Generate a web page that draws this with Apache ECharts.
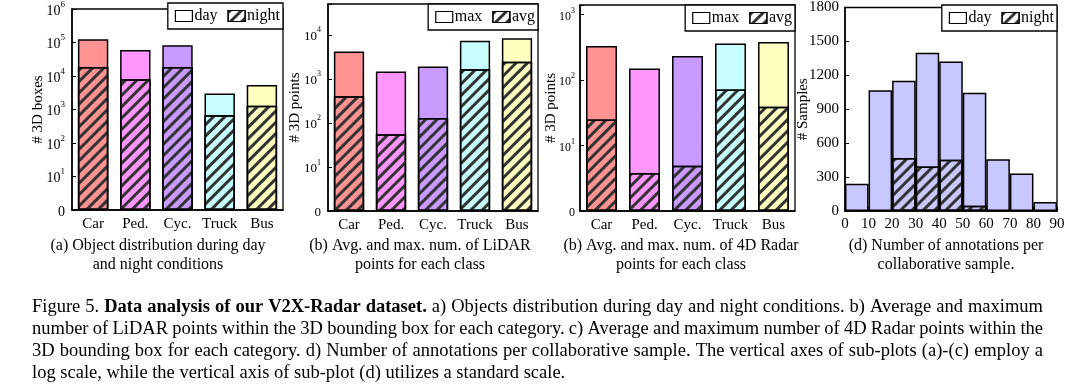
<!DOCTYPE html>
<html><head><meta charset="utf-8">
<script src="https://cdn.jsdelivr.net/npm/echarts@6/dist/echarts.min.js"></script>
<style>html,body{margin:0;padding:0;background:#fff}#c{width:1080px;height:389px}</style>
</head><body><div id="c"></div>
<script>
// ---------- data ----------
const categories = ['Car', 'Ped.', 'Cyc.', 'Truck', 'Bus'];
const boxesDay = [125000, 60000, 83000, 3000, 5400];
const boxesNight = [18500, 8000, 18500, 670, 1300];
const lidarMax = [4150, 1470, 1900, 7300, 8400];
const lidarAvg = [400, 55, 130, 1650, 2450];
const radarMax = [330, 150, 233, 360, 382];
const radarAvg = [25, 3.8, 4.9, 72, 39];
const histTicks = [0, 10, 20, 30, 40, 50, 60, 70, 80, 90];
const histDay = [242, 1068, 1152, 1400, 1322, 1046, 457, 332, 79];
const histNight = [0, 0, 469, 393, 454, 46, 0, 0, 0];
const yTicksD = [0, 300, 600, 900, 1200, 1500, 1800];

// ---------- styles ----------
const FONT = '"Liberation Serif", "Times New Roman", serif';
const classColors = ['#ff9393', '#ff96ff', '#c99aff', '#c8ffff', '#ffffc0'];
const histColor = '#c8c8ff';
const hatch = {symbol: 'rect', symbolSize: 1, dashArrayX: [1, 0], dashArrayY: [2.5, 4.5], rotation: -Math.PI / 4, color: '#333'};

const grids = [
  {left: 72, top: 3, width: 211, height: 207},
  {left: 328, top: 4, width: 210, height: 207},
  {left: 580, top: 5, width: 215, height: 206},
  {left: 845, top: 5, width: 212, height: 206}
];

function powLabel(v) {
  const e = Math.log10(v);
  const r = Math.round(e);
  if (Math.abs(e - r) > 1e-6) return '';
  if (r === 0) return '{b|0}';
  return '{b|10}{s|' + r + '}';
}
const axisLineStyle = {color: '#000', width: 1.5};
const nameStyle = {color: '#000', fontFamily: FONT, fontSize: 15};
function catX(gi) {
  return {type: 'category', gridIndex: gi, data: categories,
    axisLine: {lineStyle: axisLineStyle},
    axisTick: {inside: true, length: 4, lineStyle: {color: '#000'}},
    axisLabel: {color: '#000', fontFamily: FONT, fontSize: 15, margin: 7, interval: 0},
    splitLine: {show: false}};
}
function logY(gi, max, name, gap, fs, margin) {
  return {type: 'log', logBase: 10, gridIndex: gi, min: 1, max: max,
    name: name, nameLocation: 'middle', nameGap: gap, nameMoveOverlap: false,
    nameTextStyle: nameStyle,
    axisLine: {show: true, lineStyle: axisLineStyle},
    axisTick: {show: true, inside: true, length: 4, lineStyle: {color: '#000'}},
    minorTick: {show: false}, splitLine: {show: false},
    axisLabel: {color: '#000', fontFamily: FONT, margin: margin, formatter: powLabel,
      rich: {b: {fontSize: fs, fontFamily: FONT, color: '#000', verticalAlign: 'bottom', lineHeight: fs + 4},
             s: {fontSize: Math.round(fs * 0.65), fontFamily: FONT, color: '#000', verticalAlign: 'top', lineHeight: Math.round(fs * 0.65)}}}};
}
function legendFor(gi, names) {
  const g = grids[gi];
  return {right: 1080 - (g.left + g.width), top: g.top, orient: 'horizontal',
    borderColor: '#000', borderWidth: 1.3, padding: [5, 3, 5, 7], backgroundColor: '#fff',
    itemWidth: 17, itemHeight: 11, itemGap: 10, selectedMode: false,
    textStyle: {fontFamily: FONT, fontSize: 16, color: '#000', padding: [0, 0, 0, -3]},
    data: [
      {name: names[0], icon: 'rect', itemStyle: {color: '#fff', borderColor: '#000', borderWidth: 1.2, decal: 'none'}},
      {name: names[1], icon: 'rect', itemStyle: {color: '#fff', borderColor: '#000', borderWidth: 1.2, decal: hatch}}
    ]};
}
function barPair(gi, names, hi, lo) {
  const base = {type: 'bar', xAxisIndex: gi, yAxisIndex: gi, barWidth: '72%', barGap: '-100%'};
  return [
    Object.assign({}, base, {name: names[0], z: 2,
      itemStyle: {borderColor: '#000', borderWidth: 1.5},
      data: hi.map((v, i) => ({value: v, itemStyle: {color: classColors[i]}}))}),
    Object.assign({}, base, {name: names[1], z: 3,
      itemStyle: {borderColor: '#000', borderWidth: 1.5, decal: hatch},
      data: lo.map((v, i) => ({value: v, itemStyle: {color: classColors[i]}}))})
  ];
}

const binNames = histTicks.slice(0, -1).map((t, i) => t + '-' + histTicks[i + 1]);

// ---------- caption ----------
const captionLines = [
  [['Figure 5. ', false], ['Data analysis of our V2X-Radar dataset.', true], [' a) Objects distribution during day and night conditions. b) Average and maximum', false]],
  [['number of LiDAR points within the 3D bounding box for each category. c) Average and maximum number of 4D Radar points within the', false]],
  [['3D bounding box for each category. d) Number of annotations per collaborative sample. The vertical axes of sub-plots (a)-(c) employ a', false]],
  [['log scale, while the vertical axis of sub-plot (d) utilizes a standard scale.', false]]
];
const subtitles = [
  {x: 158, lines: ['(a) Object distribution during day', 'and night conditions']},
  {x: 420, lines: ['(b) Avg. and max. num. of LiDAR', 'points for each class']},
  {x: 681, lines: ['(b) Avg. and max. num. of 4D Radar', 'points for each class']},
  {x: 946, lines: ['(d) Number of annotations per', 'collaborative sample.']}
];

const graphics = [];
subtitles.forEach(s => {
  s.lines.forEach((t, k) => {
    graphics.push({type: 'text', x: s.x, y: 246 + k * 19,
      style: {text: t, fill: '#000', font: '16px ' + FONT, align: 'center', verticalAlign: 'middle'}});
  });
});
const mctx = document.createElement('canvas').getContext('2d');
const CAP_L = 32, CAP_R = 1043, CAP_Y0 = 307, CAP_DY = 22;
function capFont(bold, size) { return (bold ? 'bold ' : '') + size + 'px ' + FONT; }
function layoutLine(segs, size) {
  const words = [];
  segs.forEach(([txt, bold]) => {
    txt.split(' ').filter(w => w.length).forEach(w => words.push({w, bold}));
  });
  words.forEach(o => { mctx.font = capFont(o.bold, size); o.width = mctx.measureText(o.w).width; });
  mctx.font = capFont(false, size);
  const spaceW = mctx.measureText(' ').width;
  const total = words.reduce((a, o) => a + o.width, 0);
  return {words, spaceW, total};
}
let capSize = 18.5;
for (; capSize > 13; capSize -= 0.25) {
  let ok = true;
  for (let li = 0; li < captionLines.length - 1; li++) {
    const L = layoutLine(captionLines[li], capSize);
    const gap = (CAP_R - CAP_L - L.total) / (L.words.length - 1);
    if (gap < 0.75 * L.spaceW) { ok = false; break; }
  }
  if (ok) break;
}
captionLines.forEach((segs, li) => {
  const L = layoutLine(segs, capSize);
  const justify = li < captionLines.length - 1;
  const gap = justify ? (CAP_R - CAP_L - L.total) / (L.words.length - 1) : L.spaceW;
  let x = CAP_L;
  L.words.forEach(o => {
    graphics.push({type: 'text', x: x, y: CAP_Y0 + li * CAP_DY,
      style: {text: o.w, fill: '#000', font: capFont(o.bold, capSize), align: 'left', verticalAlign: 'middle'}});
    x += o.width + gap;
  });
});

// ---------- option ----------
const option = {
  animation: false,
  backgroundColor: '#fff',
  grid: grids.map(g => Object.assign({show: true, borderColor: '#000', borderWidth: 1.3, backgroundColor: 'transparent'}, g)),
  legend: [legendFor(0, ['day', 'night']), legendFor(1, ['max', 'avg']), legendFor(2, ['max', 'avg']), legendFor(3, ['day', 'night'])],
  xAxis: [catX(0), catX(1), catX(2),
    {type: 'category', gridIndex: 3, data: binNames, axisLabel: {show: false}, axisTick: {show: false},
     axisLine: {lineStyle: axisLineStyle}},
    {type: 'value', gridIndex: 3, min: histTicks[0], max: histTicks[histTicks.length - 1], interval: 10, position: 'bottom',
     axisLine: {show: false}, axisTick: {show: true, inside: true, length: 4, lineStyle: {color: '#000'}},
     splitLine: {show: false}, axisLabel: {color: '#000', fontFamily: FONT, fontSize: 15, margin: 6, formatter: v => String(v)}}
  ],
  yAxis: [logY(0, 1e6, '# 3D boxes', 26, 14, 7), logY(1, 50000, '# 3D points', 25, 13, 7), logY(2, 1400, '# 3D points', 21, 12, 5),
    {type: 'value', gridIndex: 3, min: yTicksD[0], max: yTicksD[yTicksD.length - 1], interval: 300,
     name: '# Samples', nameLocation: 'middle', nameGap: 34, nameMoveOverlap: false,
     nameTextStyle: nameStyle,
     axisLine: {show: true, lineStyle: axisLineStyle},
     axisTick: {show: true, inside: true, length: 4, lineStyle: {color: '#000'}},
     splitLine: {show: false}, axisLabel: {color: '#000', fontFamily: FONT, fontSize: 15, margin: 6, formatter: v => String(v)}}
  ],
  series: [
    ...barPair(0, ['day', 'night'], boxesDay, boxesNight),
    ...barPair(1, ['max', 'avg'], lidarMax, lidarAvg),
    ...barPair(2, ['max', 'avg'], radarMax, radarAvg),
    {type: 'bar', name: 'day', xAxisIndex: 3, yAxisIndex: 3, barCategoryGap: '0%', barGap: '-100%', z: 2,
     itemStyle: {color: histColor, borderColor: '#000', borderWidth: 1.5}, data: histDay},
    {type: 'bar', name: 'night', xAxisIndex: 3, yAxisIndex: 3, barCategoryGap: '0%', barGap: '-100%', z: 3,
     itemStyle: {color: histColor, borderColor: '#000', borderWidth: 1.5, decal: hatch},
     data: histNight.map(v => v === 0 ? '-' : v)}
  ],
  graphic: graphics
};
const chart = echarts.init(document.getElementById('c'));
chart.setOption(option);
</script></body></html>
